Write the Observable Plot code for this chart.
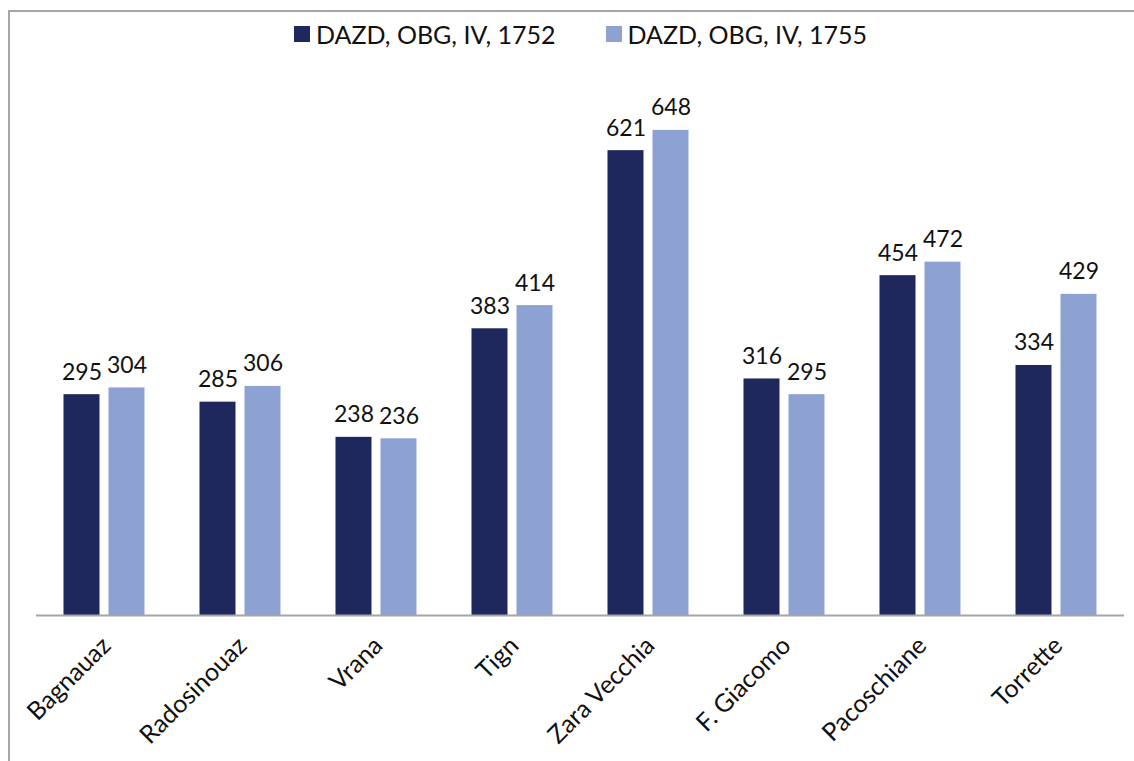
<!DOCTYPE html>
<html>
<head>
<meta charset="utf-8">
<script src="https://cdn.jsdelivr.net/npm/d3@7"></script>
<script src="https://cdn.jsdelivr.net/npm/@observablehq/plot@0.6"></script>
<style>
  html, body { margin: 0; padding: 0; background: #fff; }
  body { position: relative; width: 1134px; height: 761px; overflow: hidden; font-family: Lato, "Open Sans", sans-serif; color: #111; }
  #frame { position: absolute; left: 8px; top: 10px; width: 1200px; height: 800px; border-top: 2px solid #a6a6a6; border-left: 2px solid #a6a6a6; pointer-events: none; }
  #legend { height: 70px; display: flex; justify-content: flex-start; align-items: center; gap: 50px; padding-left: 294px; padding-bottom: 2px; box-sizing: border-box; font-size: 25px; }
  .item { display: flex; align-items: center; gap: 6px; }
  .sw { width: 16px; height: 16px; display: inline-block; }
  #chart svg { display: block; }
</style>
</head>
<body>
<div id="frame"></div>
<div id="legend"></div>
<div id="chart"></div>
<script>
const categories = ["Bagnauaz", "Radosinouaz", "Vrana", "Tign", "Zara Vecchia", "F. Giacomo", "Pacoschiane", "Torrette"];
const series = ["DAZD, OBG, IV, 1752", "DAZD, OBG, IV, 1755"];
const values1752 = [295, 285, 238, 383, 621, 316, 454, 334];
const values1755 = [304, 306, 236, 414, 648, 295, 472, 429];
const colors = ["#1f285c", "#8ea1d3"];

const data = [];
categories.forEach((c, i) => {
  data.push({name: c, series: series[0], value: values1752[i]});
  data.push({name: c, series: series[1], value: values1755[i]});
});

const legend = document.getElementById("legend");
series.forEach((s, i) => {
  const it = document.createElement("div");
  it.className = "item";
  it.innerHTML = `<span class="sw" style="background:${colors[i]}"></span><span>${s}</span>`;
  legend.appendChild(it);
});

const off = 22.5;
const d0 = data.filter(d => d.series === series[0]);
const d1 = data.filter(d => d.series === series[1]);

const plot = Plot.plot({
  width: 1134,
  height: 691,
  marginLeft: 36,
  marginRight: 10,
  marginTop: 21,
  marginBottom: 146,
  x: {domain: categories, axis: null, paddingInner: 0.735, paddingOuter: 0.3675},
  y: {domain: [0, 700], axis: null},
  color: {domain: series, range: colors},
  style: {fontFamily: "Lato, 'Open Sans', sans-serif", fontSize: "23px", color: "#111"},
  marks: [
    Plot.barY(d0, {x: "name", y: "value", fill: "series", dx: -off}),
    Plot.barY(d1, {x: "name", y: "value", fill: "series", dx: off}),
    Plot.ruleY([0], {stroke: "#a6a6a6", strokeWidth: 2}),
    Plot.text(d0, {x: "name", y: "value", text: d => String(d.value), dx: -off, dy: -15, lineAnchor: "bottom", fontSize: 23, fill: "#111"}),
    Plot.text(d1, {x: "name", y: "value", text: d => String(d.value), dx: off, dy: -15, lineAnchor: "bottom", fontSize: 23, fill: "#111"}),
    Plot.text(categories, {x: d => d, y: () => 0, text: d => d, rotate: -45, textAnchor: "end", dx: 2, dy: 26, fontSize: 25, fill: "#111"})
  ]
});
document.getElementById("chart").appendChild(plot);
</script>
</body>
</html>
